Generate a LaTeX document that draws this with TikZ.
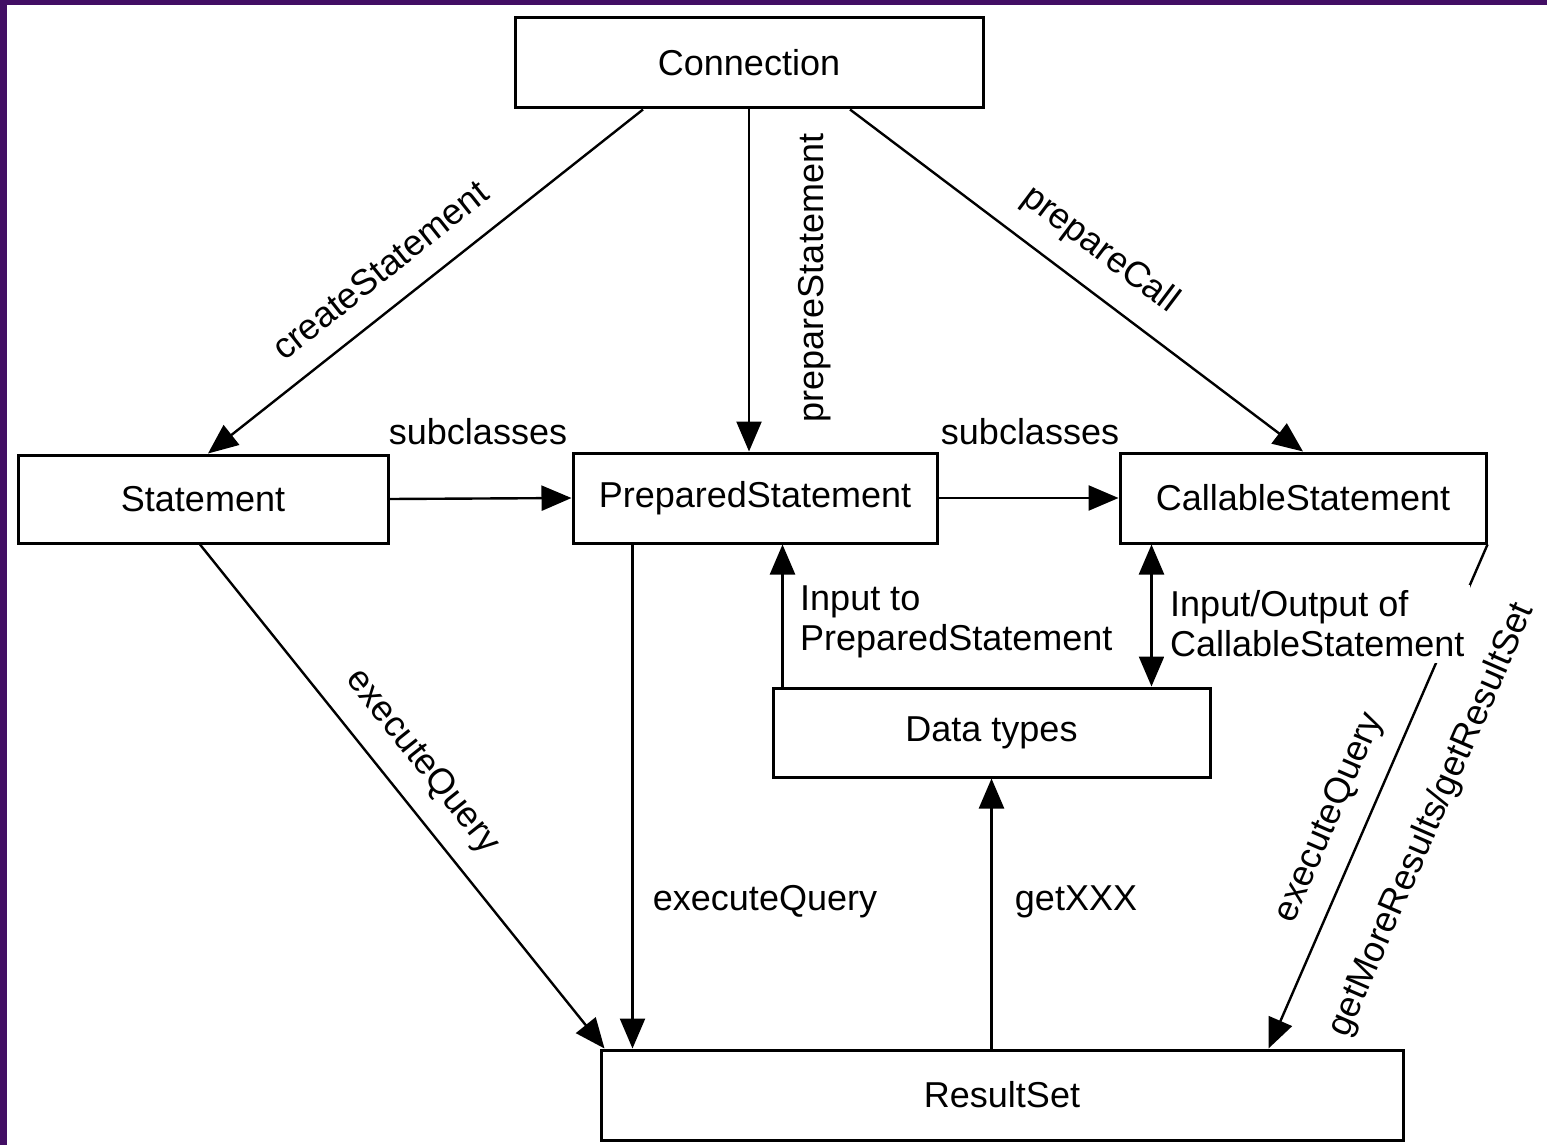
\documentclass[tikz,border=0pt]{standalone}
\usepackage{fontspec}
\setmainfont{Liberation Sans}
\usetikzlibrary{arrows.meta}
\definecolor{bordpurple}{RGB}{66,14,100}
\begin{document}
\begin{tikzpicture}[x=1pt,y=-1pt,
  box/.style={draw, line width=3pt, inner sep=0pt, font=\fontsize{36}{40}\selectfont},
  link/.style={line width=2.4pt, -{Triangle[length=30pt,width=25pt]}},
  dlink/.style={line width=2.4pt, {Triangle[length=30pt,width=25pt]}-{Triangle[length=30pt,width=25pt]}},
  lbl/.style={inner sep=2pt, font=\fontsize{36}{40}\selectfont}]
\useasboundingbox (0,0) rectangle (1547,1145);
\fill[white] (0,0) rectangle (1547,1145);
\fill[bordpurple] (0,0) rectangle (7,1145);
\fill[bordpurple] (0,0) rectangle (1547,5);

% boxes
\node[box, minimum width=468pt, minimum height=90pt] (conn) at (749,63) {Connection};
\node[box, minimum width=370pt, minimum height=88pt] (stmt) at (203,499) {Statement};
\node[box, minimum width=364pt, minimum height=90pt] (prep) at (755,498) {PreparedStatement};
\node[box, minimum width=366pt, minimum height=90pt] (call) at (1303,498) {CallableStatement};
\node[box, minimum width=437pt, minimum height=89pt] (dt) at (991.5,732.5) {Data types};
\node[box, minimum width=802pt, minimum height=90pt] (rs) at (1002,1095) {ResultSet};

% connectors
\draw[link] ([xshift=-106pt]conn.south) -- ([xshift=5pt]stmt.north);
\draw[link] (conn.south) -- (conn.south |- prep.north);
\draw[link] ([xshift=101pt]conn.south) -- (call.north);
\draw[link] (stmt.east) -- (prep.west);
\draw[link] (prep.east) -- (call.west);
\draw[link] ([xshift=-3pt]stmt.south) -- ([xshift=5pt]rs.north west);
\draw[link] ([xshift=61pt]prep.south west) -- ([xshift=61pt]prep.south west |- rs.north);
\draw[link] ([xshift=11pt]dt.north west) -- ([xshift=11pt]dt.north west |- prep.south);
\draw[dlink] ([xshift=-60pt]dt.north east) -- ([xshift=-60pt]dt.north east |- call.south);
\draw[link] (dt.south |- rs.north) -- (dt.south);
\draw[link] (call.south east) -- ([xshift=-136pt]rs.north east);

% labels
\node[lbl, rotate=38.5] (l1) at (380,270) {createStatement};
\node[lbl, rotate=90] (l2) at (815,278) {prepareStatement};
\node[lbl, rotate=-37] (l3) at (1100,250) {prepareCall};
\node[lbl] (l4) at (478,432) {subclasses};
\node[lbl] (l5) at (1030,432) {subclasses};
\node[lbl, rotate=-51.4] (l6) at (422,762) {executeQuery};
\node[lbl] (l7) at (765,902) {executeQuery};
\node[lbl, anchor=west, align=left] (l8) at (798,622) {Input to\\PreparedStatement};
\node[lbl, anchor=west, align=left, fill=white, inner sep=6pt] (l9) at (1164,624) {Input/Output of\\CallableStatement};
\node[lbl] (l10) at (1076,902) {getXXX};
\node[lbl, rotate=66.5] (l11) at (1330,818) {executeQuery};
\node[lbl, rotate=66.5] (l12) at (1432,820) {getMoreResults/getResultSet};
\end{tikzpicture}
\end{document}
